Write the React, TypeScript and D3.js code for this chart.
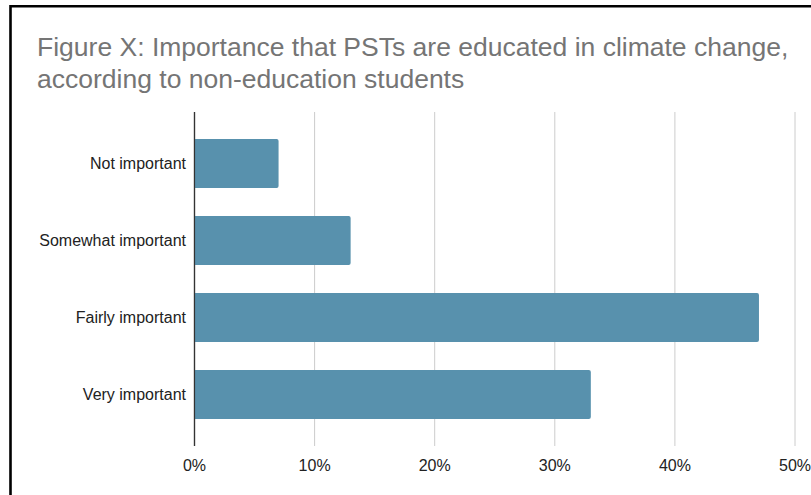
import React from "react";
import * as d3 from "d3";

const categories = ["Not important", "Somewhat important", "Fairly important", "Very important"];
const values = [7, 13, 47, 33];
const ticks = [0, 10, 20, 30, 40, 50];
const titleLines = [
  "Figure X: Importance that PSTs are educated in climate change,",
  "according to non-education students",
];

const W = 811;
const H = 495;

export default function App() {
  const x = d3.scaleLinear().domain([0, 50]).range([194.5, 795]);
  const y = d3
    .scaleBand<string>()
    .domain(categories)
    .range([112, 446])
    .paddingInner(0.364)
    .paddingOuter(0.351);
  const r = 2;
  const barPath = (v: number, c: string) => {
    const x0 = x(0);
    const x1 = x(v);
    const y0 = y(c)!;
    const h = y.bandwidth();
    return `M${x0},${y0}H${x1 - r}Q${x1},${y0} ${x1},${y0 + r}V${y0 + h - r}Q${x1},${y0 + h} ${x1 - r},${y0 + h}H${x0}Z`;
  };
  return (
    <svg
      width={W}
      height={H}
      style={{ position: "absolute", left: 0, top: 0, background: "#fff" }}
      fontFamily="'Liberation Sans', Arial, sans-serif"
    >
      <rect x={0} y={0} width={W} height={H} fill="#fff" />
      <path d={`M10.5,${H}V6.2H${W}`} fill="none" stroke="#000" strokeWidth={2.6} />
      {titleLines.map((t, i) => (
        <text key={i} x={37} y={56 + i * 31.5} fontSize={26.5} fill="#757575">
          {t}
        </text>
      ))}
      {ticks.map((t) => (
        <line
          key={t}
          x1={x(t)}
          x2={x(t)}
          y1={112}
          y2={446}
          stroke={t === 0 ? "#333" : "#ccc"}
          strokeWidth={t === 0 ? 1.2 : 1}
        />
      ))}
      {categories.map((c, i) => (
        <path key={c} d={barPath(values[i], c)} fill="#5891ad" />
      ))}
      <line x1={x(0)} x2={x(0)} y1={112} y2={446} stroke="#333" strokeWidth={1.2} />
      {categories.map((c) => (
        <text
          key={c}
          x={186}
          y={y(c)! + y.bandwidth() / 2}
          dy="0.35em"
          textAnchor="end"
          fontSize={16}
          fill="#222"
        >
          {c}
        </text>
      ))}
      {ticks.map((t) => (
        <text key={t} x={x(t)} y={471} textAnchor="middle" fontSize={16} fill="#222">
          {t}%
        </text>
      ))}
    </svg>
  );
}
